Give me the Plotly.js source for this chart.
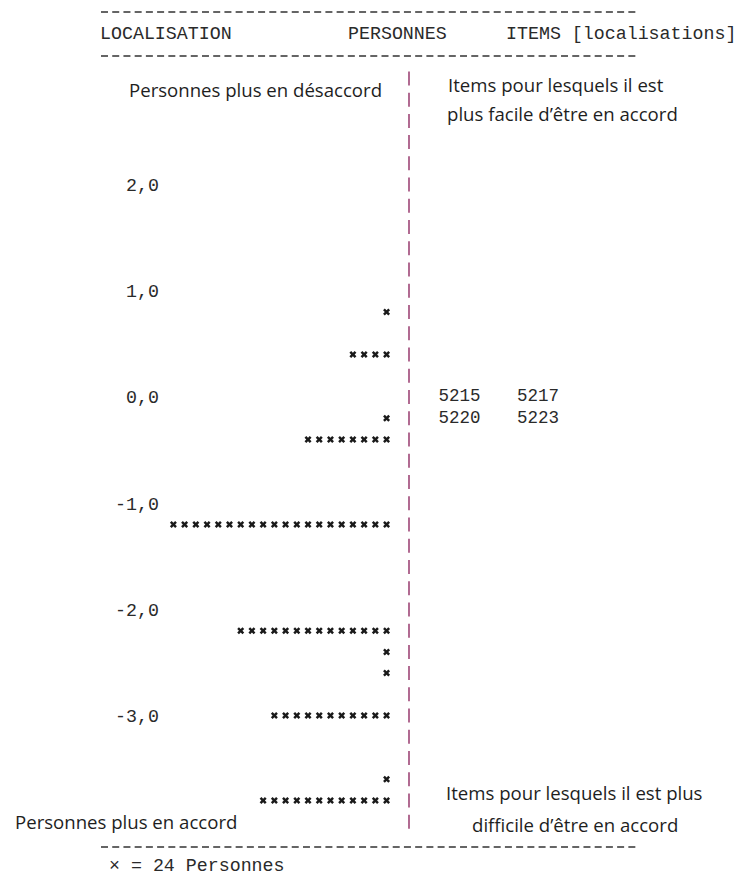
<!DOCTYPE html>
<html><head><meta charset="utf-8">
<script src="https://cdn.plot.ly/plotly-3.0.1.min.js"></script>
<style>html,body{margin:0;padding:0;background:#fff}</style>
</head><body>
<div id="chart" style="width:739px;height:885px"></div>
<script>
// Person locations (logits) and number of "×" marks on each row (1 × = 24 persons)
const personLocations = [0.8, 0.4, -0.2, -0.4, -1.2, -2.2, -2.4, -2.6, -3.0, -3.6, -3.8];
const personMarks     = [1, 4, 1, 8, 20, 14, 1, 1, 11, 1, 12];
const personsPerMark  = 24;
// Items and their locations
const itemLabels      = ["5215", "5217", "5220", "5223"];
const itemLocations   = [0.0, 0.0, -0.2, -0.2];
// Axis ticks
const tickValues      = [2, 1, 0, -1, -2, -3];
const tickLabels      = ["2,0", "1,0", "0,0", "-1,0", "-2,0", "-3,0"];

const W = 739, H = 885;
const MONO = "Liberation Mono, Courier New, monospace";
const SANS = "Open Sans, Noto Sans, sans-serif";
const CH = 11.22;          // one character column (px)
const DIV_PX = 409;        // pixel x of the divider
const PX_PER_LOGIT = 106.2;
const ZERO_PX = 397;

// persons: one marker per "×", right-aligned to the divider
const px = [], py = [];
personLocations.forEach((loc, i) => {
  for (let k = 0; k < personMarks[i]; k++) { px.push(-(2 + k)); py.push(loc); }
});

// items: columns within each row
const ix = [], iy = [];
const rowCount = {};
itemLabels.forEach((lab, j) => {
  const key = itemLocations[j].toFixed(2);
  const c = rowCount[key] || 0;
  rowCount[key] = c + 1;
  ix.push(2.62 + c * 7.0);
  iy.push(itemLocations[j]);
});

const traces = [
  {type: "scatter", mode: "markers", x: px, y: py, hoverinfo: "skip",
   marker: {symbol: "x", size: 6.2, color: "#1a1a1a", line: {width: 0}}},
  {type: "scatter", mode: "text", x: ix, y: iy, text: itemLabels,
   textposition: "middle right", hoverinfo: "skip",
   textfont: {family: MONO, size: 17.5, color: "#2a2a2a"}}
];

const xr = [-DIV_PX / CH, (W - DIV_PX) / CH];
const yr = [-(H - ZERO_PX) / PX_PER_LOGIT, ZERO_PX / PX_PER_LOGIT];
const pxX = p => p / W;          // paper x from pixel
const pxY = p => 1 - p / H;      // paper y from pixel

const dashLine = (x0, x1, y) => ({type: "line", xref: "paper", yref: "paper",
  x0: pxX(x0), x1: pxX(x1), y0: pxY(y), y1: pxY(y),
  line: {color: "#333", width: 1.4, dash: "7px,4.22px"}});

const shapes = [
  dashLine(101, 636, 12),
  dashLine(101, 636, 56),
  dashLine(101, 636, 847),
  {type: "line", xref: "x", yref: "y", x0: 0, x1: 0,
   y0: 3.0 + 7 / PX_PER_LOGIT, y1: -4.0 - 7 / PX_PER_LOGIT,
   line: {color: "#9e4677", width: 1.6, dash: "14px,7.24px"}}
];

const ann = (text, x, y, font, xanchor) => ({text, xref: "paper", yref: "paper",
  x: pxX(x), y: pxY(y), xanchor: xanchor || "left", yanchor: "middle",
  showarrow: false, font});
const monoF = {family: MONO, size: 18.3, color: "#2a2a2a"};
const sansF = {family: SANS, size: 18.6, color: "#1e1e1e"};

const annotations = [
  ann("LOCALISATION", 98, 34, monoF),
  ann("PERSONNES", 346, 34, monoF),
  ann("ITEMS [localisations]", 504, 34, monoF),
  ann("Personnes plus en désaccord", 255, 90, sansF, "center"),
  ann("Items pour lesquels il est", 556, 84, sansF, "center"),
  ann("plus facile d’être en accord", 562, 114, sansF, "center"),
  ann("Items pour lesquels il est plus", 574, 792, sansF, "center"),
  ann("difficile d’être en accord", 575, 824, sansF, "center"),
  ann("Personnes plus en accord", 126, 821, sansF, "center"),
  ann("× = " + personsPerMark + " Personnes", 107, 866, monoF)
];

const layout = {
  width: W, height: H, margin: {l: 0, r: 0, t: 0, b: 0},
  paper_bgcolor: "#fff", plot_bgcolor: "#fff", showlegend: false,
  xaxis: {range: xr, visible: false, fixedrange: true},
  yaxis: {range: yr, anchor: "free", position: 159 / W, side: "left",
          tickvals: tickValues, ticktext: tickLabels, ticks: "",
          showgrid: false, zeroline: false, showline: false, fixedrange: true,
          tickfont: {family: MONO, size: 18.3, color: "#2a2a2a"}},
  shapes, annotations
};

Plotly.newPlot("chart", traces, layout, {staticPlot: true, displayModeBar: false});
</script>
</body></html>
